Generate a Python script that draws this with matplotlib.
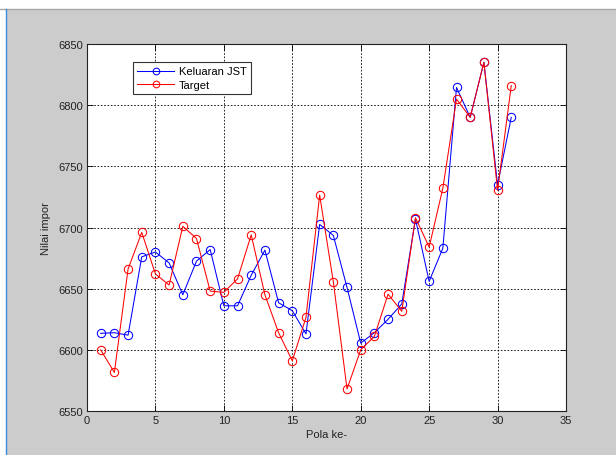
import matplotlib
matplotlib.use("Agg")
import matplotlib.pyplot as plt
from matplotlib.patches import Rectangle
from matplotlib.lines import Line2D

plt.rcParams['font.family'] = ['Liberation Sans', 'DejaVu Sans']

# data
pola = list(range(1, 32))
keluaran_jst = [6613.5, 6614, 6612, 6676, 6680, 6671, 6645, 6672.5, 6682, 6636,
                6636, 6661, 6681.5, 6638.5, 6632, 6613, 6702.5, 6693.5, 6651, 6605.5,
                6614, 6625, 6637.5, 6707, 6656, 6683, 6814.5, 6790, 6835, 6735, 6790]
target = [6600, 6581.5, 6666, 6696, 6662, 6653, 6701, 6691, 6648, 6647,
          6658, 6694, 6645, 6614, 6591, 6626.5, 6726.5, 6655.5, 6568, 6600,
          6611, 6645.5, 6631.5, 6708, 6684, 6732, 6805, 6790, 6835, 6730.5, 6816]

xticks = [0, 5, 10, 15, 20, 25, 30, 35]
yticks = [6550, 6600, 6650, 6700, 6750, 6800, 6850]

fig = plt.figure(figsize=(6.16, 4.56), dpi=100)
fig.patch.set_facecolor('#cccccc')

# window-like frame: white strip on top and left, blue edge line
fig.patches.append(Rectangle((0, 1 - 9.5 / 456), 1, 9.5 / 456, transform=fig.transFigure,
                             facecolor='white', edgecolor='none', zorder=0))
fig.lines.append(Line2D([0, 1], [1 - 9.5 / 456] * 2, transform=fig.transFigure,
                        color='#a8a8a8', lw=1))
fig.patches.append(Rectangle((0, 0), 5.5 / 616, 1 - 9.5 / 456, transform=fig.transFigure,
                             facecolor='white', edgecolor='none', zorder=0))
fig.lines.append(Line2D([6 / 616] * 2, [0, 1 - 9.5 / 456], transform=fig.transFigure,
                        color='#3c8ce0', lw=1))

ax = fig.add_axes([87 / 616, 44 / 456, 479 / 616, 367 / 456])
ax.set_facecolor('white')

ax.plot(pola, keluaran_jst, color='blue', lw=0.75, marker='o', ms=6,
        mfc='none', mew=0.75, label='Keluaran JST')
ax.plot(pola, target, color='red', lw=0.75, marker='o', ms=6,
        mfc='none', mew=0.75, label='Target')

ax.set_xlim(0, 35)
ax.set_ylim(6550, 6850)
ax.set_xticks(xticks)
ax.set_yticks(yticks)
ax.tick_params(direction='in', length=4, width=0.6, labelsize=8, colors='black',
               labelcolor='#222222', top=True, right=True, pad=3)
ax.grid(True, color='black', linestyle=(0, (2, 2)), linewidth=0.6)
for s in ax.spines.values():
    s.set_linewidth(0.8)
    s.set_color('#222222')

ax.set_xlabel('Pola ke-', fontsize=8, color='#222222', labelpad=3)
ax.set_ylabel('Nilai impor', fontsize=8, color='#222222', labelpad=5)

leg = ax.legend(loc='upper left', bbox_to_anchor=(0.096, 0.951), borderaxespad=0,
                fontsize=8, fancybox=False, edgecolor='#333333', framealpha=1,
                handlelength=3.3, borderpad=0.4, labelspacing=0.3, handletextpad=0.4,
                markerscale=0.8)
leg.get_frame().set_linewidth(0.8)

fig.savefig('out.png', dpi=100, facecolor=fig.get_facecolor())
